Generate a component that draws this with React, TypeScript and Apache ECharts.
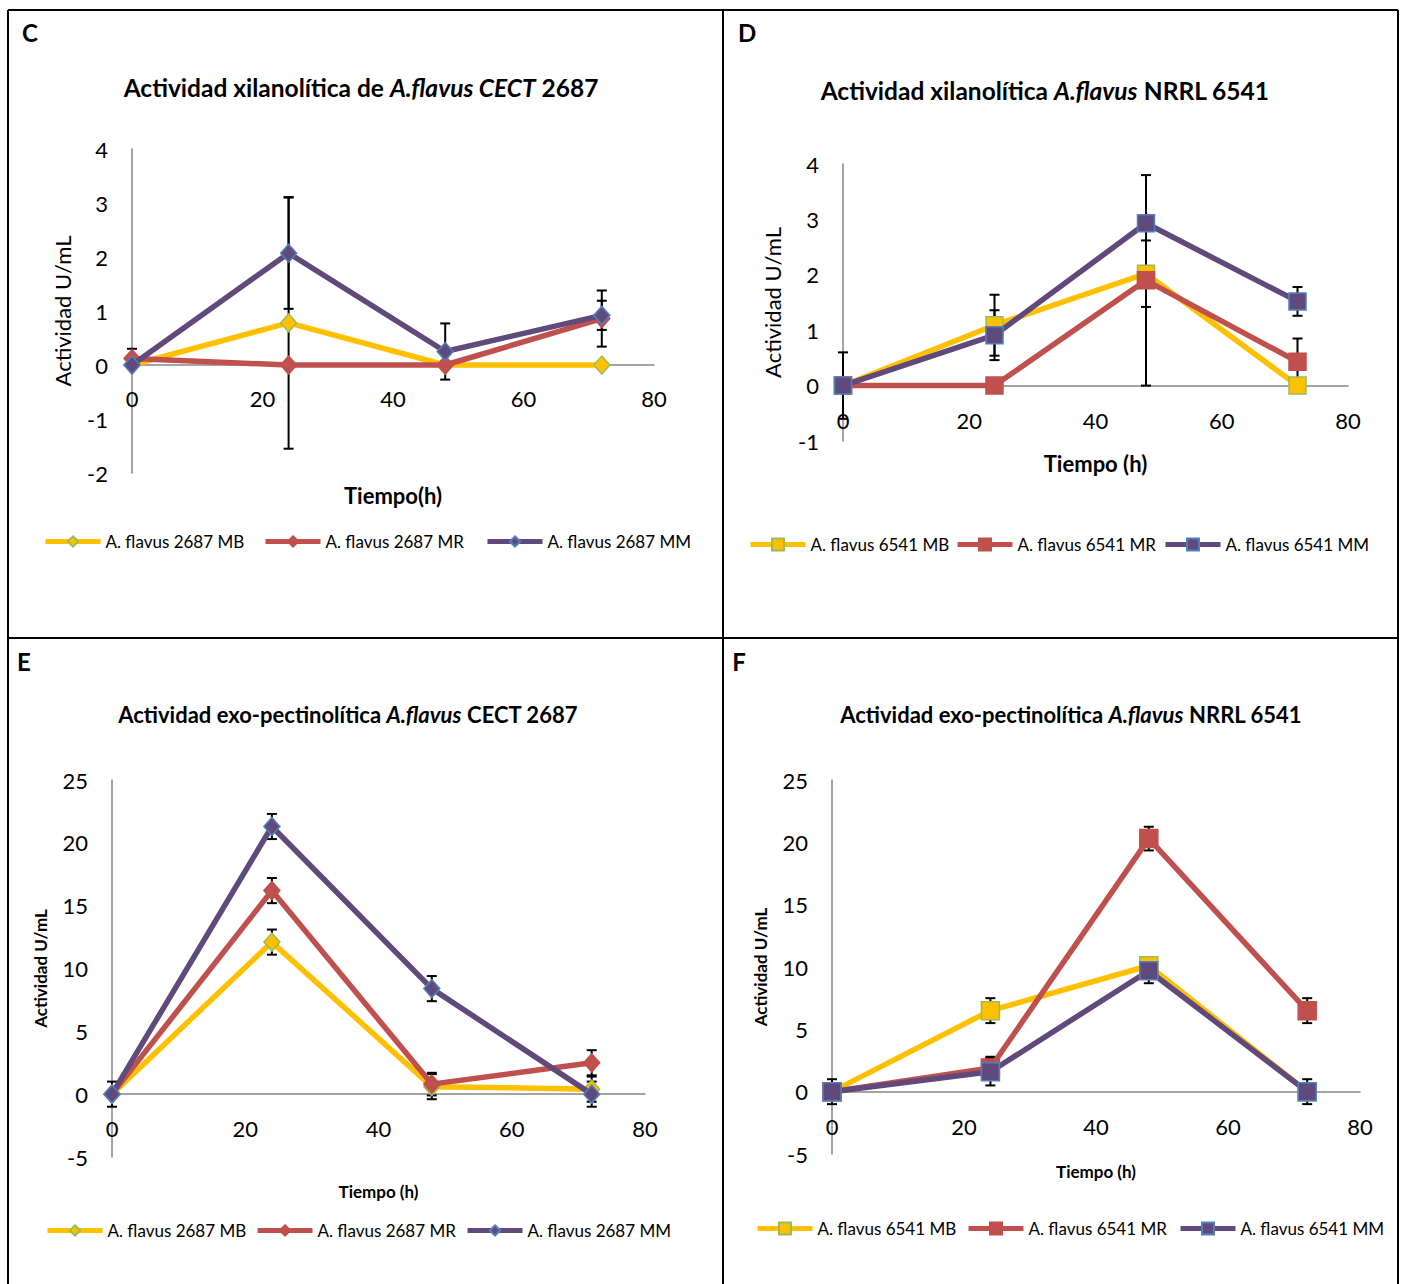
import React, { useEffect, useRef } from "react";
import * as echarts from "echarts";

// ---------- DATA ----------
const hours = [0, 24, 48, 72];

// Panel C: Actividad xilanolítica de A.flavus CECT 2687
const cNames = ["A. flavus 2687 MB", "A. flavus 2687 MR", "A. flavus 2687 MM"];
const cMB = [0, 0.78, 0, 0];
const cMBErr = [0, 2.33, 0, 0];
const cMR = [0.12, 0, 0, 0.86];
const cMRErr = [0.18, 0, 0, 0.52];
const cMM = [0, 2.07, 0.25, 0.92];
const cMMErr = [0, 1.03, 0.52, 0.27];

// Panel D: Actividad xilanolítica A.flavus NRRL 6541
const dNames = ["A. flavus 6541 MB", "A. flavus 6541 MR", "A. flavus 6541 MM"];
const dMB = [0, 1.09, 2.02, 0];
const dMBErr = [0.6, 0.55, 0.6, 0];
const dMR = [0, 0, 1.9, 0.43];
const dMRErr = [0, 0, 1.9, 0.42];
const dMM = [0, 0.91, 2.93, 1.52];
const dMMErr = [0, 0.45, 0, 0.26];

// Panel E: Actividad exo-pectinolítica A.flavus CECT 2687
const eMB = [0, 12.1, 0.6, 0.4];
const eMBErr = [0, 1.0, 1.0, 1.0];
const eMR = [0, 16.2, 0.8, 2.5];
const eMRErr = [0, 1.0, 0.9, 1.0];
const eMM = [0, 21.3, 8.4, 0];
const eMMErr = [1.0, 1.0, 1.0, 1.0];

// Panel F: Actividad exo-pectinolítica A.flavus NRRL 6541
const fMB = [0, 6.5, 10.1, 0];
const fMBErr = [0, 1.0, 0.7, 0];
const fMR = [0, 1.9, 20.3, 6.5];
const fMRErr = [0, 0.9, 0.95, 1.0];
const fMM = [0, 1.6, 9.7, 0];
const fMMErr = [1.0, 1.1, 1.0, 1.0];

// axis ranges [min, max, interval]
const xMin = 0, xMax = 80, xStep = 20;
const cRange = [-2, 4, 1];
const dRange = [-1, 4, 1];
const eRange = [-5, 25, 5];
const fRange = [-5, 25, 5];

// ---------- STYLE ----------
const FONT = "Lato, Carlito, Calibri, sans-serif";
const LINE_COLORS = ["#FFC000", "#C0504D", "#604A7B"];
const BORDER_COLORS = ["#9BBB59", "#C0504D", "#4F81BD"];
const AXIS_COLOR = "#868686";

type Panel = {
  names: string[];
  vals: number[][];
  errs: number[][];
  range: number[];
  symbol: string;
  symbolSize: number | number[];
  grid: { left: number; top: number; width: number; height: number };
  labelSize: number;
  xLabelGap: number; // distance of labels below the zero line
  yName: string;
  yNameBold: boolean;
  yNameSize: number;
  yNameGap: number;
  xName: string;
  xNameSize: number;
  xNameTop: number; // distance of name top below the grid bottom
  legendLeft: number[];
  legendTop: number;
  legendItemHeight: number;
};

const panels: Panel[] = [
  {
    names: cNames,
    vals: [cMB, cMR, cMM],
    errs: [cMBErr, cMRErr, cMMErr],
    range: cRange,
    symbol: "diamond",
    symbolSize: [16, 18],
    grid: { left: 132, top: 149, width: 522, height: 324 },
    labelSize: 22,
    xLabelGap: 22,
    yName: "Actividad U/mL",
    yNameBold: false,
    yNameSize: 22,
    yNameGap: 59,
    xName: "Tiempo(h)",
    xNameSize: 22,
    xNameTop: 11,
    legendLeft: [43, 263, 485],
    legendTop: 533,
    legendItemHeight: 13,
  },
  {
    names: dNames,
    vals: [dMB, dMR, dMM],
    errs: [dMBErr, dMRErr, dMMErr],
    range: dRange,
    symbol: "rect",
    symbolSize: 17,
    grid: { left: 843, top: 164, width: 505, height: 277 },
    labelSize: 22,
    xLabelGap: 24,
    yName: "Actividad U/mL",
    yNameBold: false,
    yNameSize: 22,
    yNameGap: 60,
    xName: "Tiempo (h)",
    xNameSize: 22,
    xNameTop: 11,
    legendLeft: [748, 955, 1163],
    legendTop: 536,
    legendItemHeight: 15,
  },
  {
    names: cNames,
    vals: [eMB, eMR, eMM],
    errs: [eMBErr, eMRErr, eMMErr],
    range: eRange,
    symbol: "diamond",
    symbolSize: [16, 18],
    grid: { left: 112, top: 780, width: 533, height: 377 },
    labelSize: 22,
    xLabelGap: 23,
    yName: "Actividad U/mL",
    yNameBold: true,
    yNameSize: 17,
    yNameGap: 63,
    xName: "Tiempo (h)",
    xNameSize: 17,
    xNameTop: 26,
    legendLeft: [45, 255, 465],
    legendTop: 1222,
    legendItemHeight: 13,
  },
  {
    names: dNames,
    vals: [fMB, fMR, fMM],
    errs: [fMBErr, fMRErr, fMMErr],
    range: fRange,
    symbol: "rect",
    symbolSize: 18,
    grid: { left: 832, top: 780, width: 528, height: 374 },
    labelSize: 22,
    xLabelGap: 24,
    yName: "Actividad U/mL",
    yNameBold: true,
    yNameSize: 17,
    yNameGap: 63,
    xName: "Tiempo (h)",
    xNameSize: 17,
    xNameTop: 9,
    legendLeft: [755, 966, 1178],
    legendTop: 1220,
    legendItemHeight: 15,
  },
];

function richTitle(x: number, y: number, text: string, size: number) {
  const base = { fontFamily: FONT, fontSize: size, fontWeight: "bold", fill: "#000" };
  return {
    type: "text",
    x,
    y,
    style: {
      text,
      textAlign: "center",
      textVerticalAlign: "middle",
      font: `bold ${size}px ${FONT}`,
      fill: "#000",
      rich: {
        b: { ...base },
        bi: { ...base, fontStyle: "italic" },
      },
    },
  };
}

function letter(x: number, y: number, t: string) {
  return {
    type: "text",
    x,
    y,
    style: {
      text: t,
      textAlign: "center",
      textVerticalAlign: "middle",
      font: `bold 24px ${FONT}`,
      fill: "#000",
    },
  };
}

function frameLine(x1: number, y1: number, x2: number, y2: number) {
  return {
    type: "line",
    shape: { x1, y1, x2, y2 },
    style: { stroke: "#000", lineWidth: 2 },
    silent: true,
  };
}

function buildOption() {
  const grid: any[] = [];
  const xAxis: any[] = [];
  const yAxis: any[] = [];
  const series: any[] = [];
  const legend: any[] = [];

  panels.forEach((p, gi) => {
    grid.push({ ...p.grid, containLabel: false });
    // pixel distance between the zero line and the bottom of the grid
    const zeroOffset = (p.grid.height * (0 - p.range[0])) / (p.range[1] - p.range[0]);
    xAxis.push({
      type: "value",
      gridIndex: gi,
      min: xMin,
      max: xMax,
      interval: xStep,
      axisLine: { show: true, onZero: true, lineStyle: { color: AXIS_COLOR, width: 1.5 } },
      axisTick: { show: false },
      splitLine: { show: false },
      axisLabel: {
        fontSize: p.labelSize,
        fontFamily: FONT,
        color: "#000",
        margin: p.xLabelGap - zeroOffset,
      },
      name: p.xName,
      nameLocation: "middle",
      nameGap: p.xNameTop,
      nameTextStyle: { fontWeight: "bold", fontSize: p.xNameSize, fontFamily: FONT, color: "#000" },
    });
    yAxis.push({
      type: "value",
      gridIndex: gi,
      min: p.range[0],
      max: p.range[1],
      interval: p.range[2],
      axisLine: { show: true, onZero: true, lineStyle: { color: AXIS_COLOR, width: 1.5 } },
      axisTick: { show: false },
      splitLine: { show: false },
      axisLabel: { fontSize: p.labelSize, fontFamily: FONT, color: "#000", margin: 24 },
      name: p.yName,
      nameLocation: "middle",
      nameGap: p.yNameGap,
      nameRotate: 90,
      nameTextStyle: {
        fontWeight: p.yNameBold ? "bold" : "normal",
        fontSize: p.yNameSize,
        fontFamily: FONT,
        color: "#000",
      },
    });

    // error bars (behind lines)
    const errData: number[][] = [];
    p.vals.forEach((vals, si) => {
      vals.forEach((v, i) => {
        const e = p.errs[si][i];
        if (e > 0) errData.push([hours[i], v - e, v + e]);
      });
    });
    series.push({
      type: "custom",
      name: "err" + gi,
      xAxisIndex: gi,
      yAxisIndex: gi,
      z: 1,
      silent: true,
      data: errData,
      encode: { x: 0, y: [1, 2] },
      renderItem: (params: any, api: any) => {
        const x = api.value(0);
        const lo = api.coord([x, api.value(1)]);
        const hi = api.coord([x, api.value(2)]);
        const w = 5;
        const st = { stroke: "#000", lineWidth: 2 };
        return {
          type: "group",
          children: [
            { type: "line", shape: { x1: hi[0], y1: hi[1], x2: lo[0], y2: lo[1] }, style: st },
            { type: "line", shape: { x1: hi[0] - w, y1: hi[1], x2: hi[0] + w, y2: hi[1] }, style: st },
            { type: "line", shape: { x1: lo[0] - w, y1: lo[1], x2: lo[0] + w, y2: lo[1] }, style: st },
          ],
        };
      },
    });

    p.vals.forEach((vals, si) => {
      series.push({
        type: "line",
        name: p.names[si],
        xAxisIndex: gi,
        yAxisIndex: gi,
        z: 3 + si,
        data: hours.map((h, i) => [h, vals[i]]),
        symbol: p.symbol,
        symbolSize: p.symbolSize,
        showAllSymbol: true,
        color: LINE_COLORS[si],
        lineStyle: { color: LINE_COLORS[si], width: 5.5 },
        itemStyle: { color: LINE_COLORS[si], borderColor: BORDER_COLORS[si], borderWidth: 1.5 },
      });
      legend.push({
        data: [p.names[si]],
        left: p.legendLeft[si],
        top: p.legendTop,
        padding: 0,
        itemWidth: 55,
        itemHeight: p.legendItemHeight,
        selectedMode: false,
        lineStyle: { width: 5 },
        textStyle: { fontSize: 17, fontFamily: FONT, color: "#000" },
      });
    });
  });

  const graphic: any[] = [
    frameLine(8, 10, 1398, 10),
    frameLine(8, 10, 8, 1284),
    frameLine(723, 10, 723, 1284),
    frameLine(1398, 10, 1398, 1284),
    frameLine(8, 638, 1398, 638),
    letter(30, 32, "C"),
    letter(747, 32, "D"),
    letter(24, 661, "E"),
    letter(739, 661, "F"),
    richTitle(361, 87, "{b|Actividad xilanolítica de }{bi|A.flavus CECT}{b| 2687}", 24.5),
    richTitle(1045, 90, "{b|Actividad xilanolítica }{bi|A.flavus}{b| NRRL 6541}", 24.5),
    richTitle(348, 714, "{b|Actividad exo-pectinolítica }{bi|A.flavus}{b| CECT 2687}", 22),
    richTitle(1071, 714, "{b|Actividad exo-pectinolítica }{bi|A.flavus}{b| NRRL 6541}", 22),
  ];

  return {
    animation: false,
    backgroundColor: "#fff",
    textStyle: { fontFamily: FONT },
    grid,
    xAxis,
    yAxis,
    legend,
    series,
    graphic,
  };
}

export default function App() {
  const ref = useRef<HTMLDivElement>(null);
  useEffect(() => {
    if (!ref.current) return;
    const chart = echarts.init(ref.current, undefined, { renderer: "svg" });
    chart.setOption(buildOption() as any);
    return () => chart.dispose();
  }, []);
  return (
    <div
      ref={ref}
      style={{ position: "absolute", left: 0, top: 0, width: 1403, height: 1284, background: "#fff" }}
    />
  );
}
